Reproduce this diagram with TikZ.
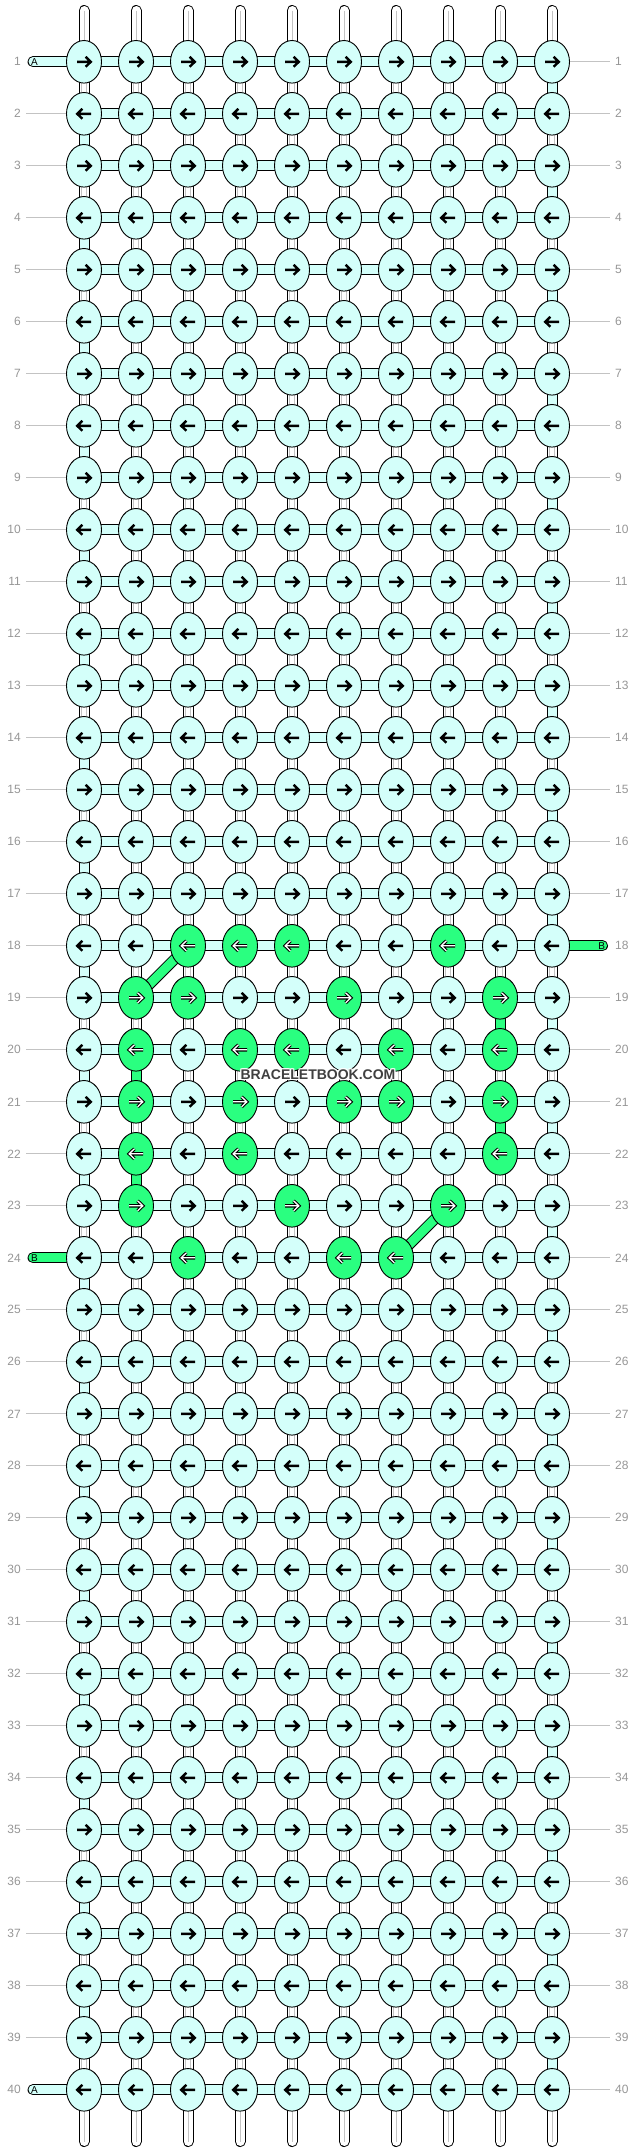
\documentclass[tikz,border=0pt]{standalone}
\usepackage{fontspec}
\setmainfont{Liberation Sans}
\usetikzlibrary{shapes.geometric}
\definecolor{kcyan}{RGB}{212,255,250}
\definecolor{kgreen}{RGB}{42,255,128}
\definecolor{lblgray}{RGB}{150,150,150}
\definecolor{linegray}{RGB}{195,195,195}
\definecolor{wmgray}{RGB}{64,64,64}
\pgfdeclarelayer{bg}
\pgfsetlayers{bg,main}
\def\greenknots{18/3,18/4,18/5,18/8,19/2,19/3,19/6,19/9,20/2,20/4,20/5,20/7,20/9,21/2,21/4,21/6,21/7,21/9,22/2,22/4,22/9,23/2,23/5,23/8,24/3,24/6,24/7}
\def\greenverts{19/9,20/2,21/9,22/2}
\foreach \r/\c in \greenknots {\expandafter\gdef\csname gk-\r-\c\endcsname{1}}
\foreach \r/\c in \greenverts {\expandafter\gdef\csname gv-\r-\c\endcsname{1}}
\tikzset{
  arrR/.pic={\path[pic actions] (-7,0) -- (6.3,0) (1.6,-5) -- (6.8,0) -- (1.6,5);},
  arrL/.pic={\path[pic actions] (7,0) -- (-6.3,0) (-1.6,-5) -- (-6.8,0) -- (-1.6,5);}
}
\begin{document}
\begin{tikzpicture}[x=1pt,y=-1pt,
  knot/.style={ellipse, draw=black, line width=0.9pt, minimum width=35pt, minimum height=42.6pt, inner sep=0pt, fill=kcyan},
  gknot/.style={knot, fill=kgreen},
  hconn/.style={draw=black, line width=1pt, double=kcyan, double distance=9pt},
  gconn/.style={draw=black, line width=1pt, double=kgreen, double distance=9pt},
  wconn/.style={draw=black, line width=1pt, double=white, double distance=9pt},
  innerln/.style={draw=linegray, line width=0.6pt},
  rowline/.style={draw=linegray, line width=0.9pt},
  rowlbl/.style={text=lblgray, font=\fontsize{12}{12}\selectfont, inner sep=0pt},
  strandlbl/.style={text=black, font=\fontsize{10}{10}\selectfont, inner sep=0pt},
  blackarrow/.style={draw=black, line width=2.4pt, line join=miter},
  outarrow/.style={draw=black, line width=3.4pt, line join=miter},
  inarrow/.style={draw=white, line width=1.3pt, line join=miter},
  wm/.style={font=\bfseries\fontsize{14}{14}\selectfont, inner sep=0pt}
]
\useasboundingbox (0,0) rectangle (636,2152);
% knots
\foreach \r in {1,...,40}{
  \foreach \c in {1,...,10}{
    \pgfmathsetmacro\xx{84+52*(\c-1)}
    \pgfmathsetmacro\yy{61.8+52*(\r-1)}
    \ifcsname gk-\r-\c\endcsname
      \node[gknot] (k-\r-\c) at (\xx,\yy) {};
      \ifodd\r\relax
        \pic[outarrow] at (k-\r-\c) {arrR};
        \pic[inarrow] at (k-\r-\c) {arrR};
      \else
        \pic[outarrow] at (k-\r-\c) {arrL};
        \pic[inarrow] at (k-\r-\c) {arrL};
      \fi
    \else
      \node[knot] (k-\r-\c) at (\xx,\yy) {};
      \ifodd\r\relax
        \pic[blackarrow] at (k-\r-\c) {arrR};
      \else
        \pic[blackarrow] at (k-\r-\c) {arrL};
      \fi
    \fi
  }
}
% row labels
\foreach \r in {1,...,40}{
  \pgfmathsetmacro\yy{61.8+52*(\r-1)}
  \node[rowlbl, anchor=east] (lL-\r) at (21,\yy) {\r};
  \node[rowlbl, anchor=west] (lR-\r) at (615,\yy) {\r};
}
\begin{pgfonlayer}{bg}
% horizontal connectors
\foreach \r in {1,...,40}{
  \foreach \c in {1,...,9}{
    \pgfmathtruncatemacro\cn{\c+1}
    \draw[hconn] (k-\r-\c.center) -- (k-\r-\cn.center);
  }
}
% vertical connectors
\foreach \r in {1,...,39}{
  \pgfmathtruncatemacro\rn{\r+1}
  \foreach \c in {1,...,10}{
    \ifodd\r\relax
      \ifnum\c=10 \def\vt{1}\else\def\vt{0}\fi
    \else
      \ifnum\c=1 \def\vt{1}\else\def\vt{0}\fi
    \fi
    \ifcsname gv-\r-\c\endcsname \def\vt{2}\fi
    \ifcase\vt
      \draw[wconn] (k-\r-\c.center) -- (k-\rn-\c.center);
      \draw[innerln] ([xshift=-2.7pt]k-\r-\c.center) -- ([xshift=-2.7pt]k-\rn-\c.center);
      \draw[innerln] ([xshift=2.7pt]k-\r-\c.center) -- ([xshift=2.7pt]k-\rn-\c.center);
    \or
      \draw[hconn] (k-\r-\c.center) -- (k-\rn-\c.center);
    \or
      \draw[gconn] (k-\r-\c.center) -- (k-\rn-\c.center);
    \fi
  }
}
% diagonal green connectors
\draw[gconn] (k-18-3.center) -- (k-19-2.center);
\draw[gconn] (k-23-8.center) -- (k-24-7.center);
% top and bottom strands
\foreach \c in {1,...,10}{
  \pgfmathsetmacro\xx{84+52*(\c-1)}
  \coordinate (top-\c) at (\xx,10.5);
  \coordinate (bot-\c) at (\xx,2141.5);
  \draw[wconn, line cap=round] (top-\c) -- (k-1-\c.center);
  \draw[innerln] (top-\c) -- (k-1-\c.center);
  \draw[wconn, line cap=round] (bot-\c) -- (k-40-\c.center);
  \draw[innerln] (bot-\c) -- (k-40-\c.center);
}
% side strands
\coordinate (a-1) at (33,61.8);
\coordinate (a-40) at (33,2089.8);
\coordinate (b-24) at (33,1257.8);
\coordinate (b-18) at (602.5,945.8);
\draw[hconn, line cap=round] (a-1) -- (k-1-1.center);
\draw[hconn, line cap=round] (a-40) -- (k-40-1.center);
\draw[gconn, line cap=round] (b-24) -- (k-24-1.center);
\draw[gconn, line cap=round] (b-18) -- (k-18-10.center);
% row guide lines
\foreach \r in {2,...,23,25,26,...,39}{
  \pgfmathsetmacro\yy{61.8+52*(\r-1)}
  \coordinate (gl-\r) at (26,\yy);
  \draw[rowline] (gl-\r) -- (k-\r-1.west);
}
\foreach \r in {1,...,17,19,20,...,40}{
  \pgfmathsetmacro\yy{61.8+52*(\r-1)}
  \coordinate (gr-\r) at (610,\yy);
  \draw[rowline] (k-\r-10.east) -- (gr-\r);
}
\end{pgfonlayer}
% strand letters
\node[strandlbl] (sa-1) at (34.5,61.8) {A};
\node[strandlbl] (sa-40) at (34.5,2089.8) {A};
\node[strandlbl] (sb-24) at (34.5,1257.8) {B};
\node[strandlbl] (sb-18) at (601.7,945.8) {B};
% watermark
\foreach \dx/\dy [count=\i] in {-1/-1,0/-1,1/-1,-1/0,1/0,-1/1,0/1,1/1}{
  \node[wm, text=white] (wmh-\i) at (318+\dx,1074.7+\dy) {BRACELETBOOK.COM};
}
\node[wm, text=wmgray] (wm) at (318,1074.7) {BRACELETBOOK.COM};
\end{tikzpicture}
\end{document}
